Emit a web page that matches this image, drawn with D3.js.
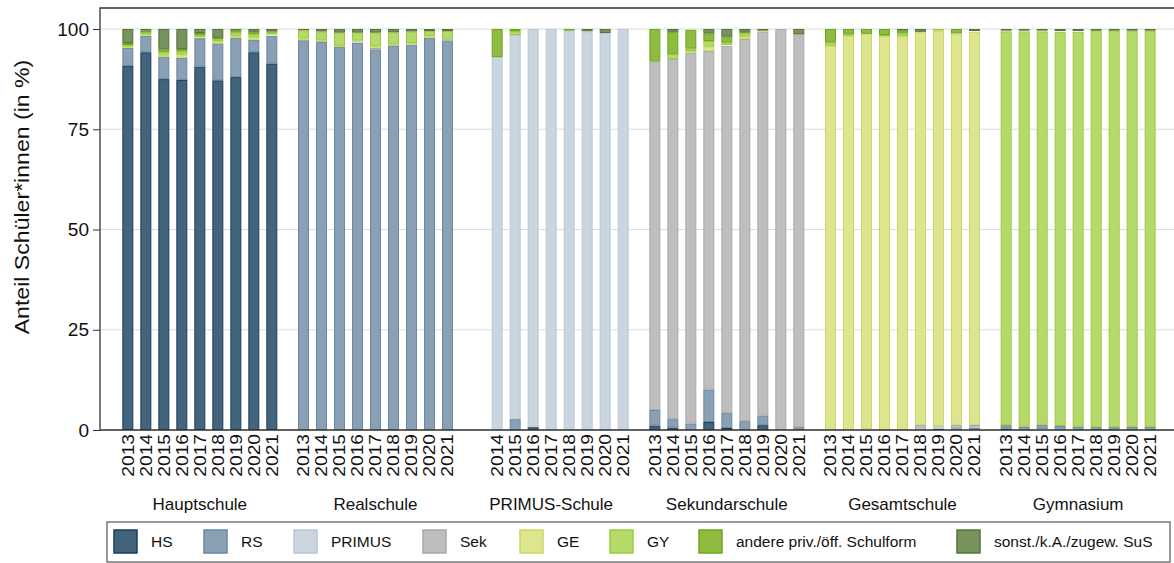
<!DOCTYPE html>
<html>
<head>
<meta charset="utf-8">
<script src="https://cdn.jsdelivr.net/npm/d3@7"></script>
<style>
  body { margin: 0; background: #fff; }
  text { font-family: "Liberation Sans", Arial, sans-serif; fill: #111; }
</style>
</head>
<body>
<div id="chart"></div>
<script>
// Schulformen (Facetten) und Jahre
var groups = ["Hauptschule", "Realschule", "PRIMUS-Schule", "Sekundarschule", "Gesamtschule", "Gymnasium"];
var years = ["2013", "2014", "2015", "2016", "2017", "2018", "2019", "2020", "2021"];
var yTicks = [0, 25, 50, 75, 100];

// Anteile je Serie: eine Zeile pro Schulform, eine Spalte pro Jahr (null = kein Wert)
var hs = [
  [90.8, 94.2, 87.5, 87.3, 90.6, 87.2, 88.0, 94.2, 91.4],
  [0, 0, 0, 0, 0, 0, 0, 0, 0],
  [null, 0, 0, 0.7, 0, 0, 0, 0, 0],
  [1.1, 0.6, 0, 2.0, 0.5, 0, 1.2, 0, 0],
  [0, 0, 0.2, 0, 0, 0, 0.3, 0, 0],
  [0.3, 0, 0.2, 0, 0, 0, 0, 0, 0]
];
var rs = [
  [4.5, 4.1, 5.6, 5.5, 7.1, 9.2, 9.8, 3.1, 6.9],
  [97.2, 96.9, 95.5, 96.6, 94.9, 95.9, 96.1, 97.8, 97.1],
  [null, 0, 2.7, 0, 0, 0, 0, 0, 0],
  [3.9, 2.1, 1.6, 8.1, 3.8, 2.2, 2.4, 0, 0.7],
  [0, 0, 0, 0, 0, 0, 0, 0.4, 0.5],
  [0.9, 0.8, 1.1, 1.0, 0.8, 0.7, 0.7, 0.8, 0.8]
];
var primus = [
  [0, 0, 0, 0, 0, 0, 0, 0, 0.2],
  [0, 0, 0, 0, 0, 0, 0, 0, 0],
  [null, 93.0, 95.8, 99.3, 100, 99.6, 99.2, 99.0, 100],
  [0, 0, 0, 0, 0, 0, 0, 0, 0],
  [0, 0, 0, 0, 0, 0, 0.7, 0, 0.3],
  [0, 0, 0, 0, 0, 0, 0, 0, 0]
];
var sek = [
  [0, 0, 0, 0, 0, 0, 0, 0, 0],
  [0, 0, 0, 0.2, 0.4, 0, 0, 0, 0.3],
  [null, 0, 0, 0, 0, 0, 0, 0, 0],
  [86.9, 89.8, 92.5, 84.4, 91.5, 95.3, 95.7, 100, 98.0],
  [0, 0, 0, 0, 0, 1.3, 0, 0.9, 0.5],
  [0, 0, 0, 0, 0, 0, 0, 0, 0]
];
var ge = [
  [0.3, 0.3, 0.5, 0.8, 0.2, 0.6, 0.5, 0.6, 0.3],
  [0.5, 0.4, 0.3, 0.3, 0.4, 0.3, 0.4, 0.5, 0],
  [null, 0, 0, 0, 0, 0, 0, 0, 0],
  [0, 0, 0.4, 1.1, 0.2, 0.6, 0.3, 0, 0],
  [95.8, 98.3, 98.6, 98.2, 98.2, 98.0, 98.6, 97.6, 98.0],
  [0, 0, 0, 0, 0, 0, 0, 0, 0]
];
var gy = [
  [0.4, 0.5, 0.7, 0.8, 0.5, 0.4, 0.8, 0.8, 0.3],
  [2.0, 2.1, 3.3, 2.0, 3.4, 3.0, 2.9, 1.2, 2.1],
  [null, 0, 1.0, 0, 0, 0, 0, 0, 0],
  [0, 1.2, 0.6, 1.4, 0.6, 0.8, 0, 0, 0],
  [0.8, 0.4, 0, 0.3, 0.7, 0, 0.4, 0, 0.2],
  [98.2, 98.6, 98.1, 98.3, 98.5, 98.9, 98.9, 98.8, 98.8]
];
var andere = [
  [0.5, 0.5, 0.6, 0.6, 0.6, 0.4, 0.6, 0.6, 0.3],
  [0, 0, 0, 0, 0, 0, 0, 0, 0],
  [null, 7.0, 0.5, 0, 0, 0.4, 0.2, 0, 0],
  [8.1, 5.6, 4.7, 1.9, 1.5, 0.4, 0, 0, 0],
  [3.4, 1.3, 1.2, 1.5, 0.7, 0, 0, 1.1, 0],
  [0.2, 0.2, 0.2, 0.2, 0.2, 0, 0, 0, 0]
];
var sonst = [
  [3.5, 0.4, 5.1, 5.0, 1.0, 2.2, 0.3, 0.7, 0.6],
  [0.3, 0.6, 0.9, 0.9, 0.9, 0.8, 0.6, 0.5, 0.5],
  [null, 0, 0, 0, 0, 0, 0.6, 1.0, 0],
  [0, 0.7, 0.2, 1.1, 1.9, 0.7, 0.4, 0, 1.3],
  [0, 0, 0, 0, 0.4, 0.7, 0, 0, 0.5],
  [0.4, 0.4, 0.4, 0.5, 0.5, 0.4, 0.4, 0.4, 0.4]
];

var keys = ["HS", "RS", "PRIMUS", "Sek", "GE", "GY", "andere priv./öff. Schulform", "sonst./k.A./zugew. SuS"];
var series = [hs, rs, primus, sek, ge, gy, andere, sonst];
var fills = ["#43647d", "#8aa0b4", "#cbd5e0", "#bebebf", "#dde58f", "#b5d96a", "#8fbb41", "#76935b"];
var strokes = ["#183f5b", "#6b87a1", "#b9c7d7", "#a9a9aa", "#c9d960", "#9bcb3c", "#6ea71f", "#55733a"];

// Tabelle für d3.stack
var rows = [];
groups.forEach(function(g, gi) {
  years.forEach(function(yr, yi) {
    if (hs[gi][yi] === null) return;
    var row = {group: g, year: yr};
    keys.forEach(function(k, ki) { row[k] = series[ki][gi][yi]; });
    rows.push(row);
  });
});

var width = 1174, height = 563;
var svg = d3.select("#chart").append("svg")
  .attr("width", width)
  .attr("height", height);

var x0 = d3.scaleBand().domain(groups).range([112, 1166]);
var x1 = d3.scaleBand().domain(years).range([0, x0.bandwidth()])
  .paddingInner(0.39).paddingOuter(0.575);
var y = d3.scaleLinear().domain([0, 100]).range([430, 29]);

// Gitterlinien
svg.selectAll(".grid")
  .data(yTicks)
  .enter()
    .append("line")
      .attr("x1", 100)
      .attr("x2", 1174)
      .attr("y1", function(d) { return y(d); })
      .attr("y2", function(d) { return y(d); })
      .attr("stroke", "#dcdcdc")
      .attr("stroke-width", 1.2);

var stack = d3.stack().keys(keys);
var layers = stack(rows);

svg.selectAll(".layer")
  .data(layers)
  .enter()
    .append("g")
      .attr("fill", function(d, i) { return fills[i]; })
      .attr("stroke", function(d, i) { return strokes[i]; })
      .selectAll("rect")
      .data(function(d) { return d.filter(function(p) { return p[1] - p[0] > 0; }); })
      .enter()
        .append("rect")
          .attr("x", function(d) { return x0(d.data.group) + x1(d.data.year) + 0.5; })
          .attr("width", x1.bandwidth() - 1)
          .attr("y", function(d) { return y(d[1]) + 0.5; })
          .attr("height", function(d) { return Math.max(0, y(d[0]) - y(d[1]) - 1); })
          .attr("stroke-width", 1);

// Rahmen und Achsen
svg.append("path")
  .attr("d", "M1174,8H100V430H1174")
  .attr("fill", "none")
  .attr("stroke", "#333")
  .attr("stroke-width", 1.3);

var yAxis = svg.append("g")
  .attr("transform", "translate(100,0)")
  .call(d3.axisLeft(y).tickValues(yTicks).tickSize(7).tickPadding(4));
yAxis.select(".domain").remove();
yAxis.selectAll("line").attr("stroke", "#333");
yAxis.selectAll("text")
  .style("font-size", "19px")
  .style("font-family", "Liberation Sans, Arial, sans-serif")
  .attr("fill", "#111");

svg.append("text")
  .attr("transform", "translate(29,197) rotate(-90) scale(1.1,1)")
  .attr("text-anchor", "middle")
  .style("font-size", "21px")
  .text("Anteil Schüler*innen (in %)");

// Jahreslabels
svg.selectAll(".yearlabel")
  .data(rows)
  .enter()
    .append("text")
      .attr("transform", function(d) {
        var cx = x0(d.group) + x1(d.year) + x1.bandwidth() / 2 + 5.8;
        return "translate(" + cx + ",434) rotate(-90) scale(1.2,1)";
      })
      .attr("text-anchor", "end")
      .style("font-size", "16px")
      .text(function(d) { return d.year; });

svg.selectAll(".grouplabel")
  .data(groups)
  .enter()
    .append("text")
      .attr("x", function(d) { return x0(d) + x0.bandwidth() / 2; })
      .attr("y", 510)
      .attr("text-anchor", "middle")
      .style("font-size", "17px")
      .text(function(d) { return d; });

// Legende
svg.append("rect")
  .attr("x", 107)
  .attr("y", 522)
  .attr("width", 1063)
  .attr("height", 40)
  .attr("fill", "none")
  .attr("stroke", "#555")
  .attr("stroke-width", 1.2);

var legendX = [114, 204, 294, 423, 520, 610, 699, 957];
var legend = svg.selectAll(".legend")
  .data(keys)
  .enter()
    .append("g")
      .attr("transform", function(d, i) { return "translate(" + legendX[i] + ",530)"; });
legend.append("rect")
  .attr("width", 23)
  .attr("height", 23)
  .attr("fill", function(d, i) { return fills[i]; })
  .attr("stroke", function(d, i) { return strokes[i]; })
  .attr("stroke-width", 1.5);
legend.append("text")
  .attr("x", 37)
  .attr("y", 17)
  .style("font-size", "15.5px")
  .text(function(d) { return d; });
</script>
</body>
</html>
